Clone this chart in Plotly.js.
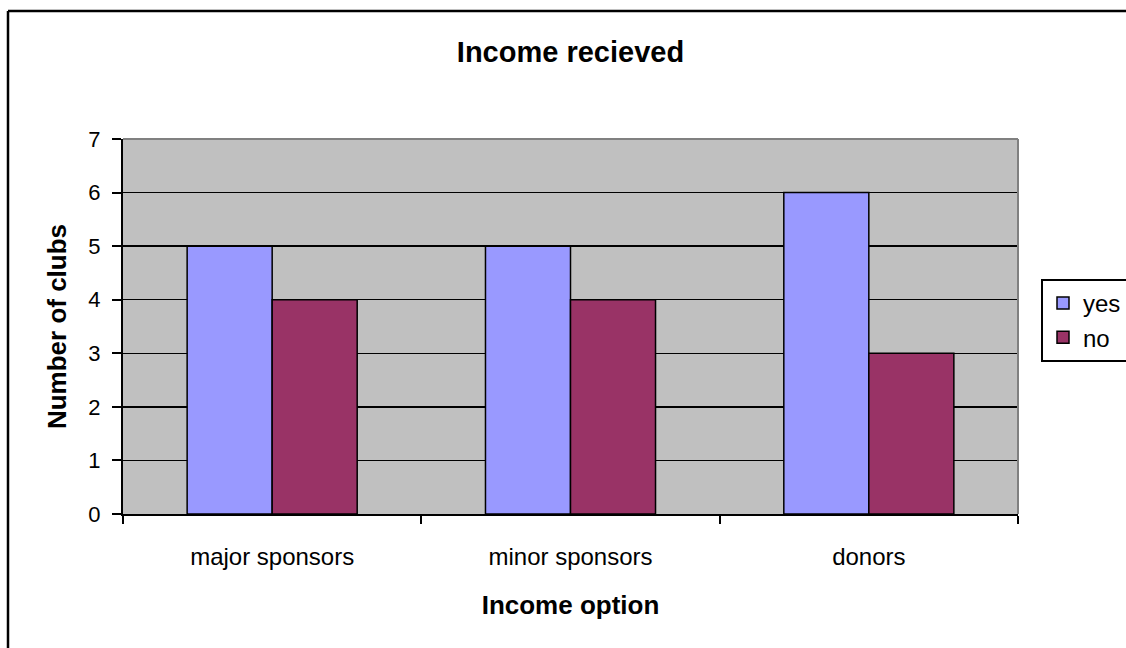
<!DOCTYPE html>
<html><head><meta charset="utf-8">
<script src="https://cdn.plot.ly/plotly-3.0.1.min.js"></script>
<style>html,body{margin:0;padding:0;background:#fff;overflow:hidden}#chart{width:1126px;height:648px}</style>
</head><body><div id="chart"></div>
<script>
const categories = ["major sponsors", "minor sponsors", "donors"];
const yesValues = [5, 5, 6];
const noValues = [4, 4, 3];
const seriesNames = ["yes", "no"];
const yTicks = [0, 1, 2, 3, 4, 5, 6, 7];

const F = "Arial, 'Liberation Sans', sans-serif";
const L = 123, R = 108, T = 139, B = 134, W = 1126, H = 648;
const pw = W - L - R, ph = H - T - B;
const px = x => (x - L) / pw;
const py = y => (H - B - y) / ph;

const traces = [
  {type: "bar", name: seriesNames[0], x: categories, y: yesValues,
   marker: {color: "#9999FF", line: {color: "#000", width: 1.5}}},
  {type: "bar", name: seriesNames[1], x: categories, y: noValues,
   marker: {color: "#993366", line: {color: "#000", width: 1.5}}}
];

const layout = {
  width: W, height: H,
  margin: {l: L, r: R, t: T, b: B, autoexpand: false},
  paper_bgcolor: "#fff", plot_bgcolor: "#C0C0C0",
  barmode: "group", bargap: 0.43, bargroupgap: 0,
  font: {family: F, color: "#000"},
  title: {text: "<b>Income recieved</b>", font: {size: 29, family: F, color: "#000"},
          x: 0.5, xref: "paper", y: 1 - 52 / H, yref: "container", yanchor: "middle"},
  xaxis: {
    type: "category", tickson: "boundaries", ticks: "outside", ticklen: 8, tickwidth: 2, tickcolor: "#000",
    showline: true, linecolor: "#000", linewidth: 2, showgrid: false,
    tickfont: {size: 24, family: F}, ticklabelstandoff: 20,
    title: {text: "<b>Income option</b>", font: {size: 26, family: F}, standoff: 27}
  },
  yaxis: {
    range: [0, 7], tickvals: yTicks, ticks: "outside", ticklen: 9, tickwidth: 2, tickcolor: "#000",
    showline: true, linecolor: "#000", linewidth: 2,
    showgrid: true, gridcolor: "#000", gridwidth: 1.5, zeroline: false,
    tickfont: {size: 22, family: F}, ticklabelstandoff: 7,
    title: {text: "<b>Number of clubs</b>", font: {size: 26, family: F}, standoff: 14}
  },
  legend: {
    x: px(1041), y: py(279), xanchor: "left", yanchor: "top",
    bordercolor: "#000", borderwidth: 2, bgcolor: "#fff",
    font: {size: 24, family: F}, tracegroupgap: 0
  },
  shapes: [
    {type: "line", xref: "paper", yref: "paper", x0: 1, x1: 1, y0: 0, y1: 1, line: {color: "#808080", width: 2}},
    {type: "line", xref: "paper", yref: "paper", x0: 0, x1: 1, y0: 1, y1: 1, line: {color: "#808080", width: 2}},
    {type: "line", xref: "paper", yref: "paper", x0: px(8), x1: px(8), y0: py(11), y1: py(660), line: {color: "#000", width: 2.5}},
    {type: "line", xref: "paper", yref: "paper", x0: px(8), x1: px(1140), y0: py(11), y1: py(11), line: {color: "#000", width: 2.5}}
  ]
};

Plotly.newPlot("chart", traces, layout, {displayModeBar: false, staticPlot: true});
</script>
</body></html>
